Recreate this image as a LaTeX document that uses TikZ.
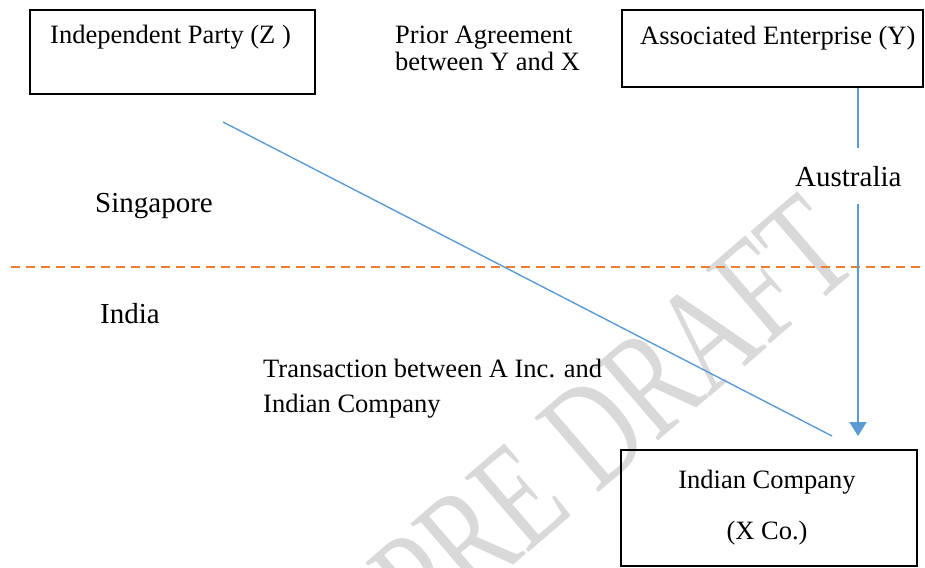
\documentclass[tikz,border=0pt]{standalone}
\usepackage{fontspec}
\setmainfont{Liberation Serif}
\usetikzlibrary{arrows.meta}
\definecolor{linkblue}{HTML}{5B9BD5}
\definecolor{borderorange}{HTML}{ED7D31}
\definecolor{markgray}{HTML}{D9D9D9}
\begin{document}
\begin{tikzpicture}[x=1pt, y=-1pt,
  box/.style={draw=black, line width=1.6pt, inner sep=0pt, anchor=north west},
  lbl/.style={font=\fontsize{26.5}{32}\selectfont, inner sep=0pt, anchor=base west},
  midlbl/.style={font=\fontsize{26.5}{32}\selectfont, inner sep=0pt, anchor=base},
  region/.style={font=\fontsize{29}{34}\selectfont, inner sep=0pt, anchor=base west},
  flow/.style={draw=linkblue, line width=2pt},
  deal/.style={draw=linkblue, line width=1.4pt},
  border/.style={draw=borderorange, line width=2pt, dash pattern=on 9pt off 6pt},
  stamp/.style={font=\fontsize{107}{107}\selectfont, text=markgray, inner sep=0pt, transform shape}
]
\useasboundingbox (0,0) rectangle (925,567);
\clip (0,0) rectangle (925,567);

% background stamp, stretched across its baseline
\begin{scope}[shift={(613,415)}, rotate=40.7, yscale=1.4]
  \node[stamp] (stamp) at (0,0) {PRE DRAFT};
\end{scope}

% boxes
\node[box, minimum width=285pt, minimum height=84pt] (Z) at (29,9) {};
\node[box, minimum width=301pt, minimum height=77pt] (Y) at (621,9) {};
\node[box, minimum width=296pt, minimum height=116pt] (X) at (620,449) {};

% box texts
\node[lbl] (Ztext) at (50,44) {Independent Party (Z )};
\node[lbl] (Ytext) at (640,45) {Associated Enterprise (Y)};
\node[midlbl] (Xtext1) at (767,488) {Indian Company};
\node[midlbl] (Xtext2) at (767,539) {(X Co.)};

% free labels
\node[lbl] (prior1) at (395,44) {Prior Agreement};
\node[lbl] (prior2) at (395,71) {between Y and X};
\node[lbl] (trans1) at (263,377) {Transaction between A Inc. and};
\node[lbl] (trans2) at (263,412) {Indian Company};
\node[region] (sg) at (95,212) {Singapore};
\node[region] (in) at (100,323) {India};
\node[region] (au) at (795,186) {Australia};

% country border
\coordinate (bL) at (11,267);
\coordinate (bR) at (925,267);
\draw[border] (bL) -- (bR);

% transaction line
\coordinate (dStart) at (223,122);
\coordinate (dEnd) at (832,436);
\draw[deal] (dStart) -- (dEnd);

% agreement arrow from Y down to X
\coordinate (auTop) at (858,148);
\coordinate (auBot) at (858,204);
\coordinate (arrEnd) at (858,436);
\draw[flow] (Y.south -| auTop) -- (auTop);
\draw[flow, -{Triangle[width=17pt,length=14pt]}] (auBot) -- (arrEnd);
\end{tikzpicture}
\end{document}
